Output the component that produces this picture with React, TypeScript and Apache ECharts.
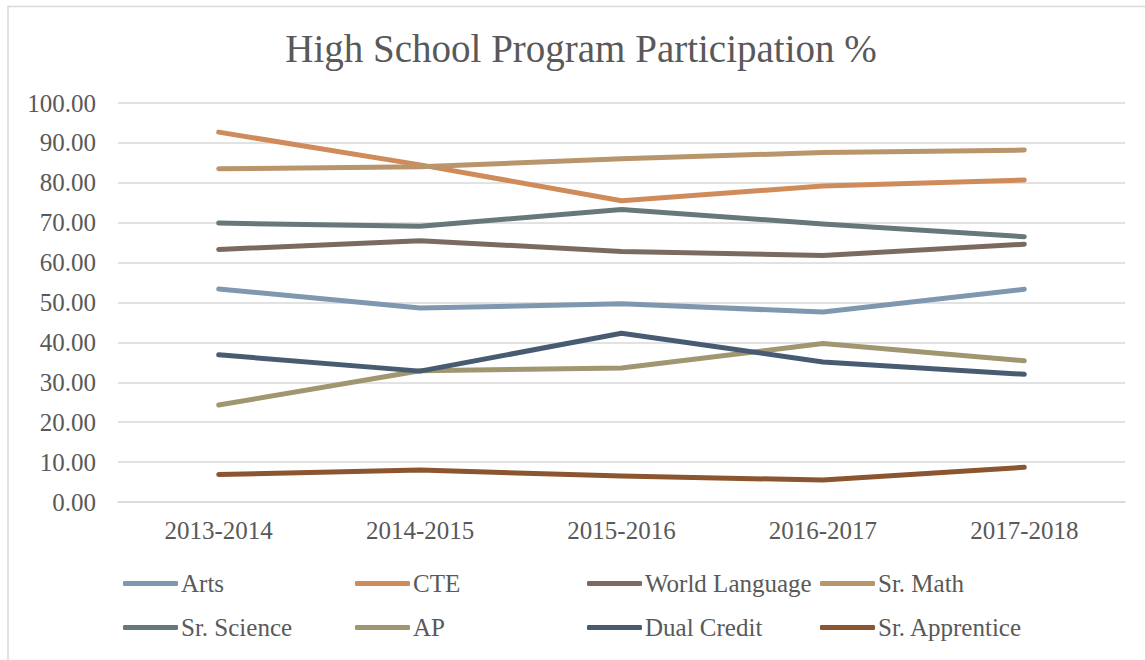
import React, { useEffect, useRef } from "react";
import * as echarts from "echarts";

const categories = ["2013-2014", "2014-2015", "2015-2016", "2016-2017", "2017-2018"];
const seriesNames = ["Arts", "CTE", "World Language", "Sr. Math", "Sr. Science", "AP", "Dual Credit", "Sr. Apprentice"];
const arts = [53.4, 48.6, 49.7, 47.6, 53.3];
const cte = [92.7, 84.5, 75.5, 79.2, 80.7];
const worldLanguage = [63.3, 65.5, 62.8, 61.8, 64.6];
const srMath = [83.5, 84.0, 86.0, 87.6, 88.2];
const srScience = [69.9, 69.1, 73.3, 69.7, 66.5];
const ap = [24.3, 32.9, 33.6, 39.7, 35.4];
const dualCredit = [36.9, 32.8, 42.3, 35.1, 32.0];
const srApprentice = [6.9, 8.0, 6.5, 5.5, 8.7];
const colors = ["#7F98B0", "#D08B5B", "#7A6A5F", "#B9956B", "#66787A", "#A09670", "#475C70", "#8B5530"];

const allValues = [arts, cte, worldLanguage, srMath, srScience, ap, dualCredit, srApprentice];

const FONT = "'Liberation Serif', 'Times New Roman', serif";
const TEXT = "#595959";

export default function App() {
  const ref = useRef<HTMLDivElement>(null);
  useEffect(() => {
    if (!ref.current) return;
    const chart = echarts.init(ref.current, undefined, { renderer: "svg" });
    const legendCols = [123, 355, 587, 820];
    const legends = legendCols.map((left, i) => ({
      orient: "vertical",
      left,
      top: 571,
      padding: 0,
      itemGap: 19,
      itemWidth: 55,
      itemHeight: 5,
      icon: "roundRect",
      data: [seriesNames[i], seriesNames[i + 4]],
      textStyle: { fontFamily: FONT, fontSize: 25, color: TEXT, padding: [0, 0, 0, -2] },
      selectedMode: false,
    }));
    chart.setOption({
      animation: false,
      backgroundColor: "#ffffff",
      title: {
        text: "High School Program Participation %",
        left: 581,
        textAlign: "center",
        top: 29,
        padding: 0,
        textStyle: { fontFamily: FONT, fontSize: 39, fontWeight: "normal", color: TEXT },
      },
      graphic: [
        {
          type: "rect",
          shape: { x: 8, y: 6.5, width: 2000, height: 2000 },
          style: { fill: "none", stroke: "#d9d9d9", lineWidth: 1.5 },
          silent: true,
        },
      ],
      legend: legends,
      grid: { left: 118, right: 20, top: 103, bottom: 158 },
      xAxis: {
        type: "category",
        data: categories,
        boundaryGap: true,
        axisLine: { show: true, lineStyle: { color: "#d9d9d9", width: 1.5 } },
        axisTick: { show: false },
        axisLabel: { fontFamily: FONT, fontSize: 25, color: TEXT, margin: 16 },
      },
      yAxis: {
        type: "value",
        min: 0,
        max: 100,
        interval: 10,
        axisLine: { show: false },
        axisTick: { show: false },
        splitLine: { lineStyle: { color: "#d9d9d9", width: 1.5 } },
        axisLabel: {
          fontFamily: FONT,
          fontSize: 25,
          color: TEXT,
          margin: 22,
          formatter: (v: number) => v.toFixed(2),
        },
      },
      series: seriesNames.map((name, i) => ({
        name,
        type: "line",
        data: allValues[i],
        symbol: "none",
        color: colors[i],
        lineStyle: { width: 5, color: colors[i], cap: "round", join: "round" },
        itemStyle: { color: colors[i] },
      })),
    });
    return () => chart.dispose();
  }, []);
  return (
    <div
      ref={ref}
      style={{ position: "fixed", left: 0, top: 0, width: 1145, height: 660 }}
    />
  );
}
